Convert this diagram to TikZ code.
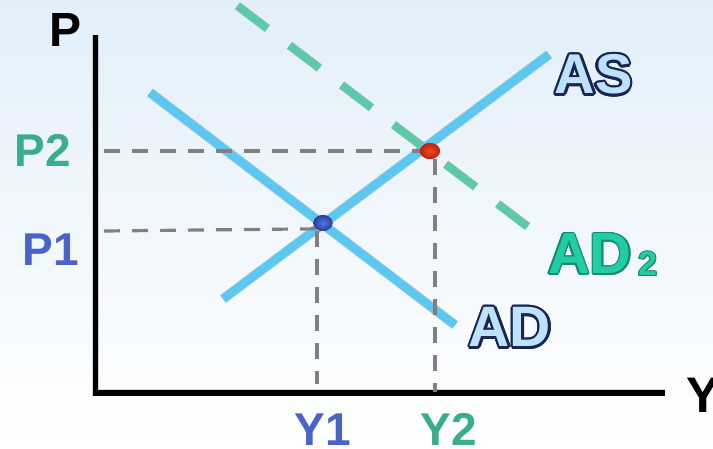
\documentclass[tikz,border=0pt]{standalone}
\usepackage{fontspec}
\setmainfont{Liberation Sans}
\usetikzlibrary{shapes.geometric,calc}
\definecolor{bgtop}{HTML}{E2EFF9}
\definecolor{bgmid}{HTML}{F1F7FC}
\definecolor{curve}{HTML}{5AC8F0}
\definecolor{adtwo}{HTML}{5CCAA8}
\definecolor{guide}{HTML}{808080}
\definecolor{lblgreen}{HTML}{3AAD8A}
\definecolor{lblblue}{HTML}{4A63C8}
\definecolor{navy}{HTML}{1B2552}
\definecolor{pale}{HTML}{BDE2FC}
\definecolor{tealfill}{HTML}{22CCA4}
\definecolor{tealline}{HTML}{168A70}
\definecolor{bluedotout}{HTML}{2B3D9C}
\definecolor{bluedotin}{HTML}{5577E0}
\definecolor{reddotout}{HTML}{C0200F}
\definecolor{reddotin}{HTML}{F04A25}

\newcommand\outlinetext[8]{% name, position, anchor, font, outline col, fill col, radius, text
  \foreach \ang in {0,22.5,...,337.5}{%
    \node[anchor=#3,inner sep=0,text=#5,font=#4] at ($(#2)+(\ang:#7)$) {#8};}
  \node[anchor=#3,inner sep=0,text=#6,font=#4] (#1) at (#2) {#8};}

\tikzset{
  curveline/.style={draw=curve,line width=8.5},
  shadowline/.style={draw=black,opacity=0.16,line width=#1,shift={(2.5,3.5)}},
  guideline/.style={draw=guide,line width=3.2,dash pattern=on 16 off 12},
  axisline/.style={draw=black,line width=5.5,line join=miter},
  bigbold/.style={font=\fontsize{#1}{#1}\selectfont\bfseries},
  plainlbl/.style={inner sep=0,anchor=base},
  eqdot/.style={ellipse,inner sep=0,minimum width=19,minimum height=16}
}

\begin{document}
\begin{tikzpicture}[x=1pt,y=-1pt]
\useasboundingbox (0,0) rectangle (713,449);
\shade[top color=bgtop, bottom color=white, middle color=bgmid] (0,0) rectangle (713,449);

% coordinates
\coordinate (yaxtop) at (95.5,35);
\coordinate (origin) at (95.5,393);
\coordinate (xaxend) at (665,393);
\coordinate (asA) at (223,299);
\coordinate (asB) at (549,54.5);
\coordinate (adA) at (150,92.5);
\coordinate (adB) at (455,325);
\coordinate (adtA) at (237.5,5.8);
\coordinate (adtB) at (527.5,226.5);
\coordinate (ptwoS) at (104,151);
\coordinate (poneS) at (104,231);
\coordinate (ytwoT) at (435,159);
\coordinate (ytwoF) at (435,392);
\coordinate (yoneT) at (317,231);
\coordinate (yoneF) at (317,384);

% shadows
\draw[shadowline=7] (yaxtop) -- (origin) -- (xaxend);
\draw[shadowline=10,line cap=butt] (asA) -- (asB);
\draw[shadowline=10] (adA) -- (adB);
\draw[shadowline=9,dash pattern=on 37.5 off 27.9] (adtA) -- (adtB);

% axes
\draw[axisline] (yaxtop) -- (origin) -- (xaxend);

% curves
\draw[draw=adtwo,line width=8,dash pattern=on 37.5 off 27.9] (adtA) -- (adtB);
\draw[curveline] (adA) -- (adB);
\draw[curveline] (asA) -- (asB);

% equilibrium dots
\node[eqdot,inner color=bluedotin,outer color=bluedotout] (eone) at (323,223) {};
\node[eqdot,minimum width=20,inner color=reddotin,outer color=reddotout] (etwo) at (430,151) {};

% guides
\draw[guideline] (ptwoS) -- (etwo.west);
\draw[guideline] (poneS) -- (eone.south west);
\draw[guideline] (ytwoT) -- (ytwoF);
\draw[guideline] (yoneT) -- (yoneF);

% redraw dots on top
\node[eqdot,inner color=bluedotin,outer color=bluedotout] (eonetop) at (eone) {};
\node[eqdot,minimum width=20,inner color=reddotin,outer color=reddotout] (etwotop) at (etwo) {};

% axis labels
\node[plainlbl,bigbold=48,text=black] (plbl) at (66,47) {P};
\node[inner sep=0,anchor=base west,bigbold=50,text=black] (ylbl) at (686,412) {Y};
\node[plainlbl,bigbold=46,text=lblgreen] (ptwolbl) at (42.5,167) {P2};
\node[plainlbl,bigbold=46,text=lblblue] (ponelbl) at (50.5,266) {P1};
\node[plainlbl,bigbold=46,text=lblblue] (yonelbl) at (322.5,445) {Y1};
\node[plainlbl,bigbold=46,text=lblgreen] (ytwolbl) at (448.5,445) {Y2};

% curve labels
\outlinetext{aslbl}{593.5,94}{base}{\fontsize{56}{56}\selectfont\bfseries}{navy}{pale}{2.6}{AS}
\outlinetext{adlbl}{510,347}{base}{\fontsize{57}{57}\selectfont\bfseries}{navy}{pale}{2.6}{AD}
\outlinetext{adtwolbl}{590,274}{base}{\fontsize{58}{58}\selectfont\bfseries}{tealline}{tealfill}{1.3}{AD}
\outlinetext{adtwosub}{638,276}{base west}{\fontsize{34}{34}\selectfont\bfseries}{tealline}{tealfill}{1.0}{2}
\end{tikzpicture}
\end{document}
